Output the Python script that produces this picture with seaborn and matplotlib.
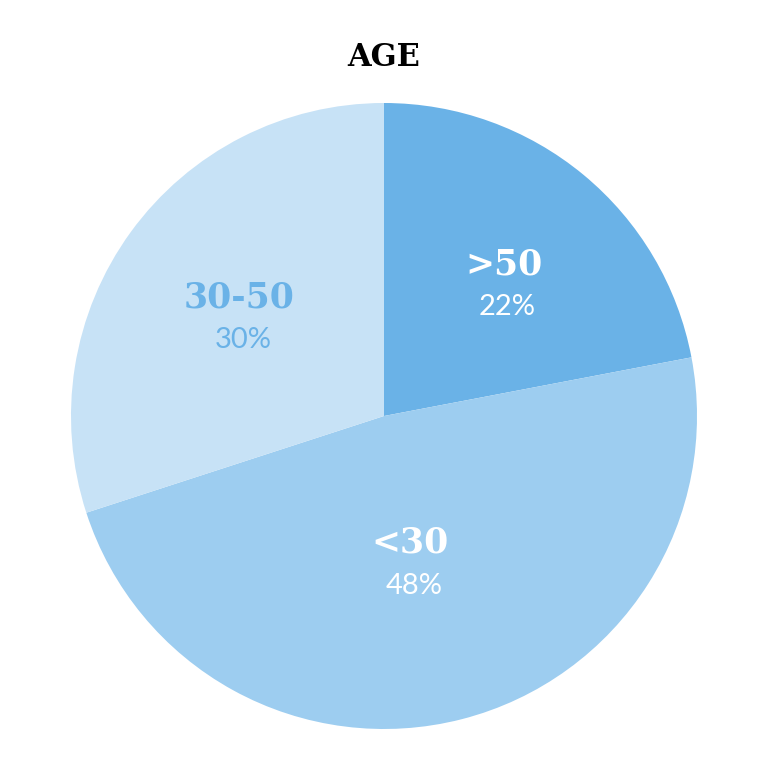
import matplotlib.pyplot as plt
import numpy as np
import seaborn as sns

sns.set_style("white")

# data
groups = [">50", "<30", "30-50"]
shares = [22, 48, 30]
colors = ["#6ab2e7", "#9dcdf0", "#c7e2f6"]
text_colors = ["white", "white", "#6ab2e7"]

# layout of the labels inside each wedge (radius, angle shift in degrees)
label_r = [0.565, 0.48, 0.557]
label_shift = [-3, -4.4, 2]

fig = plt.figure(figsize=(7.68, 7.68), dpi=100)
ax = fig.add_axes([(384 - 313) / 768, (768 - 416 - 313) / 768, 626 / 768, 626 / 768])

wedges, _ = ax.pie(shares, colors=colors, startangle=90, counterclock=False,
                   wedgeprops=dict(linewidth=0))
ax.set_xlim(-1, 1)
ax.set_ylim(-1, 1)
ax.set_aspect("equal")
ax.axis("off")

for w, g, s, tc, r, sh in zip(wedges, groups, shares, text_colors, label_r, label_shift):
    ang = np.deg2rad((w.theta1 + w.theta2) / 2 + sh)
    x, y = r * np.cos(ang), r * np.sin(ang)
    ax.text(x, y + 0.067, g, ha="center", va="center", color=tc,
            fontsize=25, fontweight="bold", family="DejaVu Serif")
    ax.text(x + 0.012, y - 0.069, f"{s}%", ha="center", va="center", color=tc,
            fontsize=21, fontweight="normal", family="Lato")

fig.text(0.5, 1 - 57 / 768, "AGE", ha="center", va="center", color="black",
         fontsize=22, fontweight="bold", family="DejaVu Serif")

fig.savefig("out.png", dpi=100, facecolor="white")
